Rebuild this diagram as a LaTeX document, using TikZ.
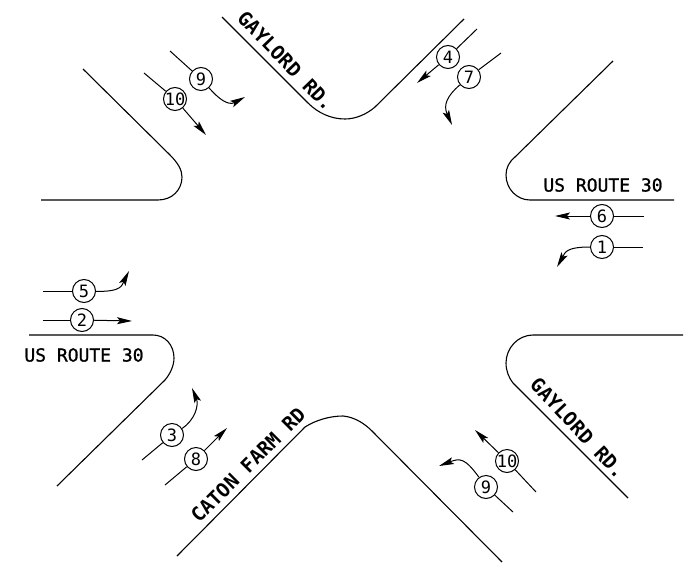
\documentclass[tikz,border=0pt]{standalone}
\usepackage{fontspec}
\setmonofont{DejaVu Sans Mono}
\newfontfamily\roadfont[FakeBold=1.2]{DejaVu Sans Mono}
\usepackage{tikz}
\usetikzlibrary{arrows.meta}

\tikzset{
    curb/.style={line width=1.1pt},
    movenum/.style={draw, circle, line width=1pt, fill=white, minimum size=23pt, inner sep=0pt, font=\ttfamily\fontsize{17}{17}\selectfont},
    movearrow/.style={line width=1pt, -{Stealth[length=15pt, width=7pt, inset=3pt]}},
    tail/.style={line width=1pt},
    roadname/.style={font=\roadfont\fontsize{18}{18}\selectfont, inner sep=0pt},
    crossname/.style={font=\ttfamily\bfseries\fontsize{19.5}{20}\selectfont, inner sep=0pt}
}

\begin{document}
\begin{tikzpicture}[x=1pt, y=-1pt]
    \useasboundingbox (0,0) rectangle (685,562);

    % Bordsteine.
    \draw[curb] (83,69) -- (170,155) .. controls (178,163) and (182,170) .. (182,177) .. controls (182,190) and (172,200) .. (158,200) -- (41,200);
    \draw[curb] (222,17) -- (308,103) .. controls (318,113) and (331,119) .. (345,119) .. controls (356,119) and (367,114) .. (375,107) -- (464,19);
    \draw[curb] (613,61) -- (515,157) .. controls (509,162) and (506,168) .. (506,175) .. controls (506,189) and (517,200) .. (530,200) -- (674,200);
    \draw[curb] (29,335) -- (153,335) .. controls (165,335) and (174,345) .. (174,358) .. controls (174,366) and (170,374) .. (165,380) -- (57,486);
    \draw[curb] (177,556) -- (305,427) .. controls (316,420) and (330,416) .. (343,416) .. controls (354,417) and (364,423) .. (372,431) -- (502,562);
    \draw[curb] (683,335) -- (533,335) .. controls (518,335) and (506,348) .. (506,363) .. controls (506,371) and (509,378) .. (513,383) -- (628,498);

    % Beschriftung.
    \node[roadname] (routeE) at (603,185) {US ROUTE 30};
    \node[roadname] (routeW) at (84,355) {US ROUTE 30};
    \node[crossname, rotate=-46] (gaylordN) at (286,61) {GAYLORD RD.};
    \node[crossname, rotate=-47] (gaylordS) at (578,428) {GAYLORD RD.};
    \node[crossname, rotate=45] (caton) at (248,465) {CATON FARM RD};

    % Geradeaus.
    \foreach \name/\num/\x/\y/\sx/\sy/\ex/\ey in {
        tenN/10/175/99/144/73/206/135,
        four/4/448/57/477/29/417/83,
        six/6/602/216/644/216/555/216,
        two/2/82/320/43/320/132/321,
        eight/8/196/459/165/485/227/428,
        tenS/10/507/461/536/492/475/430}
    {
        \node[movenum] (\name) at (\x,\y) {\makebox[0pt]{\num}};
        \coordinate (\name from) at (\sx,\sy);
        \coordinate (\name to) at (\ex,\ey);
        \draw[tail] (\name from) -- (\name);
        \draw[movearrow] (\name) -- (\name to);
    }

    % Abbieger.
    \foreach \name/\num/\x/\y/\sx/\sy/\ax/\ay/\bx/\by/\ex/\ey in {
        nineN/9/201/79/170/51/219/99/228/106/245/97,
        seven/7/469/77/501/53/447/96/443/105/452/125,
        one/1/602/247/643/247/565/247/565/253/557/267,
        five/5/84/291/43/291/122/292/122/285/129/271,
        three/3/172/435/142/460/195/420/199/405/192/388,
        nineS/9/486/487/513/512/465/458/460/458/439/466}
    {
        \node[movenum] (\name) at (\x,\y) {\makebox[0pt]{\num}};
        \coordinate (\name from) at (\sx,\sy);
        \coordinate (\name to) at (\ex,\ey);
        \draw[tail] (\name from) -- (\name);
        \draw[movearrow] (\name) .. controls (\ax,\ay) and (\bx,\by) .. (\name to);
    }
\end{tikzpicture}
\end{document}
